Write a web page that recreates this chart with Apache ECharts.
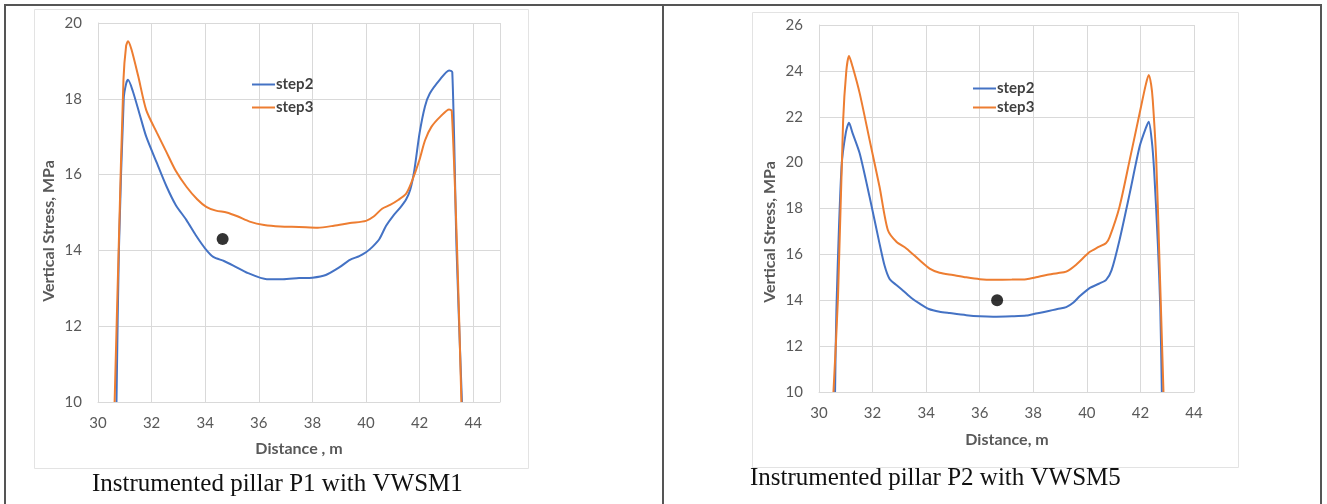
<!DOCTYPE html>
<html>
<head>
<meta charset="utf-8">
<script src="https://cdn.jsdelivr.net/npm/echarts@6/dist/echarts.min.js"></script>
<style>
html,body{margin:0;padding:0;background:#fff;}
#c{width:1327px;height:504px;}
</style>
</head>
<body>
<div id="c"></div>
<script>
// ---- data (x = distance m, y = vertical stress MPa) ----
const seriesNames = ['step2', 'step3'];
const captions = ['Instrumented pillar P1 with VWSM1', 'Instrumented pillar P2 with VWSM5'];
const xTitles = ['Distance , m', 'Distance, m'];
const yTitle = 'Vertical Stress, MPa';

const p1Step2 = [[30.69,10],[30.78,14],[30.96,18],[31.05,18.4],[31.12,18.5],[31.3,18.2],[31.55,17.6],[31.8,17.0],[32.2,16.3],[32.55,15.7],[32.9,15.2],[33.3,14.8],[33.65,14.4],[34.0,14.05],[34.3,13.83],[34.7,13.72],[35.05,13.6],[35.6,13.4],[36.3,13.24],[36.9,13.24],[37.5,13.27],[38.0,13.28],[38.5,13.35],[39.0,13.55],[39.4,13.75],[39.75,13.85],[40.0,13.95],[40.25,14.1],[40.5,14.3],[40.75,14.65],[41.0,14.9],[41.3,15.15],[41.5,15.35],[41.65,15.6],[41.8,16.1],[42.0,17.1],[42.2,17.8],[42.38,18.14],[42.75,18.5],[43.1,18.75],[43.22,18.7],[43.38,14],[43.58,10]];
const p1Step3 = [[30.62,10],[30.77,14],[30.95,18.5],[31.05,19.4],[31.12,19.52],[31.25,19.3],[31.5,18.6],[31.8,17.7],[32.2,17.1],[32.55,16.6],[32.9,16.1],[33.3,15.68],[33.7,15.35],[34.04,15.15],[34.4,15.05],[34.8,15.0],[35.2,14.9],[35.66,14.76],[36.2,14.67],[36.8,14.63],[37.5,14.62],[38.2,14.6],[38.8,14.65],[39.4,14.72],[40.0,14.78],[40.3,14.9],[40.6,15.1],[40.9,15.2],[41.2,15.33],[41.5,15.5],[41.7,15.8],[42.0,16.4],[42.2,16.9],[42.44,17.26],[42.8,17.55],[43.1,17.72],[43.2,17.68],[43.4,14],[43.56,10]];
const p1Gauge = [[34.65,14.3]];

const p2Step2 = [[30.6,10],[30.65,13.6],[30.84,19.8],[31.0,21.3],[31.12,21.74],[31.25,21.3],[31.52,20.4],[31.89,18.5],[32.26,16.47],[32.45,15.5],[32.63,14.94],[32.9,14.65],[33.13,14.43],[33.45,14.1],[33.76,13.85],[34.1,13.62],[34.5,13.5],[34.88,13.44],[35.5,13.35],[36.0,13.3],[36.5,13.28],[37.2,13.3],[37.74,13.33],[38.1,13.42],[38.49,13.51],[38.9,13.62],[39.23,13.7],[39.5,13.9],[39.73,14.17],[40.1,14.53],[40.45,14.72],[40.72,14.89],[40.92,15.3],[41.22,16.63],[41.6,18.66],[41.97,20.7],[42.2,21.5],[42.31,21.78],[42.42,21.0],[42.51,19.68],[42.65,16.47],[42.74,13.71],[42.8,10]];
const p2Step3 = [[30.54,10],[30.71,14.16],[30.9,21.8],[31.02,24.0],[31.12,24.65],[31.25,24.2],[31.52,23.02],[31.89,20.98],[32.26,18.95],[32.57,17.06],[32.89,16.55],[33.26,16.26],[33.76,15.74],[34.13,15.38],[34.5,15.2],[35.0,15.1],[35.5,15.0],[36.0,14.92],[36.49,14.89],[37.2,14.9],[37.74,14.92],[38.1,15.0],[38.49,15.1],[38.9,15.18],[39.23,15.25],[39.6,15.55],[40.1,16.1],[40.4,16.3],[40.72,16.5],[40.85,16.75],[41.22,18.08],[41.6,20.12],[41.97,22.15],[42.2,23.4],[42.31,23.82],[42.4,23.4],[42.46,22.73],[42.59,20.12],[42.71,15.76],[42.86,10]];
const p2Gauge = [[36.65,14.0]];

const xTicks = [30,32,34,36,38,40,42,44];

// ---- styles ----
const BLUE = '#4472C4', ORANGE = '#ED7D31';
const GRID = '#d9d9d9', TXT = '#595959';
const FONT = 'Lato, "Open Sans", sans-serif';

function xAxis(gi, max) {
  return {
    type: 'value', gridIndex: gi, min: 30, max: max, interval: 2,
    axisLine: {show: true, lineStyle: {color: GRID, width: 1}},
    axisTick: {show: false},
    axisLabel: {color: TXT, fontSize: 15, fontFamily: FONT, margin: 14,
      formatter: v => xTicks.indexOf(v) >= 0 ? String(v) : ''},
    splitLine: {show: true, lineStyle: {color: GRID, width: 1}}
  };
}
function yAxis(gi, max) {
  return {
    type: 'value', gridIndex: gi, min: 10, max: max, interval: 2,
    axisLine: {show: true, lineStyle: {color: GRID, width: 1}},
    axisTick: {show: false},
    axisLabel: {color: TXT, fontSize: 15, fontFamily: FONT, margin: 16},
    splitLine: {show: true, lineStyle: {color: GRID, width: 1}}
  };
}
function line(name, data, idx, color) {
  return {
    type: 'line', name: name, data: data, xAxisIndex: idx, yAxisIndex: idx,
    showSymbol: false, smooth: 0.25, clip: true,
    lineStyle: {color: color, width: 2}, itemStyle: {color: color}, z: 3
  };
}
function dot(data, idx) {
  return {
    type: 'scatter', data: data, xAxisIndex: idx, yAxisIndex: idx,
    symbolSize: 12, itemStyle: {color: '#000'}, z: 5, silent: true
  };
}
function legend(left, top, gap) {
  return {
    data: seriesNames, orient: 'vertical', left: left, top: top, itemGap: gap,
    icon: 'rect', itemWidth: 23, itemHeight: 2,
    textStyle: {color: '#404040', fontSize: 15, fontWeight: 'bold', fontFamily: FONT, padding: [0,0,0,-4]},
    selectedMode: false
  };
}
function text(x, y, str, opts) {
  return {
    type: 'text', x: x, y: y, silent: true,
    style: Object.assign({text: str, fill: TXT, font: 'bold 16px ' + FONT, textAlign: 'center', textVerticalAlign: 'middle'}, opts || {})
  };
}
function vline(x, y1, y2, color, w) {
  return {type: 'line', silent: true, shape: {x1: x, y1: y1, x2: x, y2: y2}, style: {stroke: color, lineWidth: w}};
}
function hline(y, x1, x2, color, w) {
  return {type: 'line', silent: true, shape: {x1: x1, y1: y, x2: x2, y2: y}, style: {stroke: color, lineWidth: w}};
}

const chart = echarts.init(document.getElementById('c'), null, {renderer: 'canvas'});
chart.setOption({
  backgroundColor: '#fff',
  animation: false,
  grid: [
    {left: 98, top: 23, width: 402, height: 379},
    {left: 819, top: 25, width: 375, height: 367}
  ],
  xAxis: [xAxis(0, 45), xAxis(1, 44)],
  yAxis: [yAxis(0, 20), yAxis(1, 26)],
  legend: [legend(247, 72, 8), legend(968, 76, 4)],
  series: [
    line(seriesNames[0], p1Step2, 0, BLUE),
    line(seriesNames[1], p1Step3, 0, ORANGE),
    dot(p1Gauge, 0),
    line(seriesNames[0], p2Step2, 1, BLUE),
    line(seriesNames[1], p2Step3, 1, ORANGE),
    dot(p2Gauge, 1)
  ],
  graphic: [
    {type: 'rect', silent: true, shape: {x: 34.5, y: 9.5, width: 494, height: 459}, style: {fill: null, stroke: '#e3e3e3', lineWidth: 1}, z: -1},
    {type: 'rect', silent: true, shape: {x: 752.5, y: 12.5, width: 486, height: 455}, style: {fill: null, stroke: '#e3e3e3', lineWidth: 1}, z: -1},
    hline(5, 4, 1322, '#555', 2),
    vline(5, 4, 504, '#555', 2),
    vline(663, 4, 504, '#555', 2),
    vline(1321, 4, 504, '#555', 2),
    text(299, 449, xTitles[0]),
    text(1007, 440, xTitles[1]),
    Object.assign(text(49, 231, yTitle), {rotation: Math.PI / 2}),
    Object.assign(text(770, 232, yTitle), {rotation: Math.PI / 2}),
    text(92, 484, captions[0], {font: '25px "Liberation Serif", "Times New Roman", serif', fill: '#111', textAlign: 'left'}),
    text(750, 478, captions[1], {font: '25px "Liberation Serif", "Times New Roman", serif', fill: '#111', textAlign: 'left'})
  ]
});
</script>
</body>
</html>
